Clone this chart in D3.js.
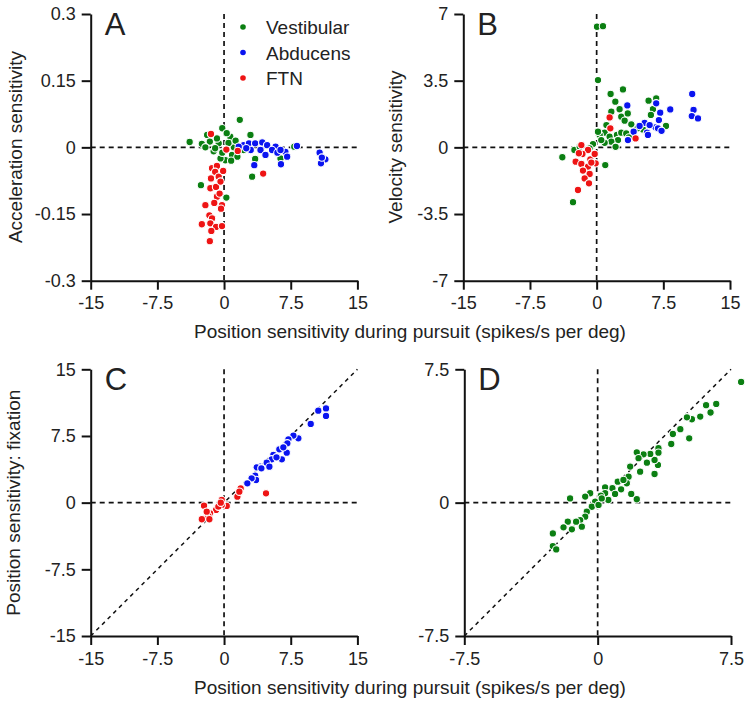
<!DOCTYPE html>
<html>
<head>
<meta charset="utf-8">
<style>
  body { margin: 0; background: #fff; }
  svg text { font-family: "Liberation Sans", Arial, Helvetica, sans-serif; fill: #222; }
</style>
<script src="https://cdn.jsdelivr.net/npm/d3@7"></script>
</head>
<body>
<svg id="chart" width="750" height="703"></svg>
<script>
// groups
const groups = ["Vestibular", "Abducens", "FTN"]
const groupColors = ["#0b7f12", "#0a14f0", "#ee1414"]

// tick values
const ticksPursuit = [-15, -7.5, 0, 7.5, 15]
const ticksAcc = [-0.3, -0.15, 0, 0.15, 0.3]
const ticksVel = [-7, -3.5, 0, 3.5, 7]
const ticksFixC = [-15, -7.5, 0, 7.5, 15]
const ticksD = [-7.5, 0, 7.5]

// A: position sensitivity vs acceleration sensitivity
const accVestibular = [[-3.87,0.012],[1.77,0.062],[-0.2,0.043],[-1.9,0.028],[-1.6,0.013],[-2.5,0.008],[-0.6,0.009],
  [-1.17,-0.009],[2.97,0.028],[3.5,-0.026],[3.16,-0.066],[-2.6,-0.085],[0.26,-0.113],[0.15,-0.029],[0.9,-0.017],
  [1.5,-0.021],[6.35,-0.025],[7.9,0.0015],[-2.1,0.0],[-0.8,0.02],[0.7,0.024],[0.3,0.032],[-0.4,-0.025],
  [-1.0,-0.002],[1.1,0.0],[2.2,-0.006],[0.5,0.01],[-0.2,-0.012],[1.3,0.015],[0.8,-0.03]]
const accAbducens = [[2.2,0.005],[2.8,0.009],[3.5,0.009],[4.3,0.011],[4.85,0.005],[4.1,-0.006],[4.66,-0.017],
  [5.8,0.0015],[5.4,-0.006],[6.0,-0.012],[3.4,-0.04],[6.4,-0.038],[6.9,-0.01],[7.1,-0.021],[8.2,0.003],
  [10.75,-0.012],[11.4,-0.027],[10.9,-0.036],[11.0,-0.023],[3.0,-0.006],[2.5,-0.002],[1.65,0.0015],[6.35,-0.006]]
const accFTN = [[-1.47,0.03],[0.26,-0.005],[1.54,-0.008],[4.4,-0.059],[-1.35,-0.047],[-0.8,-0.042],[-1.0,-0.055],
  [-1.47,-0.07],[-0.6,-0.066],[-1.54,-0.092],[-0.9,-0.089],[-0.4,-0.077],[-0.1,-0.053],[-0.8,-0.111],
  [-0.23,-0.13],[-1.1,-0.125],[-2.1,-0.13],[-1.65,-0.153],[-1.35,-0.16],[-2.5,-0.173],[-1.54,-0.171],
  [-0.9,-0.179],[-1.43,-0.188],[-0.23,-0.177],[-1.6,-0.211],[-0.5,-0.104],[-0.34,-0.138]]

// B: position sensitivity vs velocity sensitivity
const velVestibular = [[0.04,6.33],[0.71,6.36],[0.15,3.53],[1.57,2.8],[2.96,3.04],[2.1,2.4],[2.58,2.0],[1.65,1.87],
  [2.77,1.61],[3.5,1.78],[3.15,1.4],[3.9,1.21],[5.84,2.45],[6.7,2.57],[6.33,2.0],[6.1,1.7],[7.8,1.12],[5.2,0.94],
  [4.6,1.0],[1.1,1.17],[0.9,0.77],[0.34,0.65],[1.46,0.56],[2.28,0.65],[2.77,0.77],[3.33,0.73],[3.63,0.52],
  [2.4,0.38],[1.65,0.3],[0.9,0.24],[2.13,0.03],[-0.41,0.17],[-3.86,-0.52],[-2.66,-2.88],[0.97,-0.93],
  [-0.8,-0.05],[-2.5,-0.14],[-1.9,0.03],[0.52,0.38],[0.15,0.82]]
const velAbducens = [[3.45,2.2],[6.7,2.31],[7.15,1.82],[8.28,1.99],[7.0,1.43],[6.63,1.05],[6.9,1.0],[7.3,0.87],
  [5.66,0.77],[5.4,1.29],[4.83,1.12],[4.16,0.82],[3.52,0.38],[10.75,2.8],[10.9,1.96],[10.7,1.64],[11.4,1.52],
  [5.96,1.17],[5.77,0.65]]
const velFTN = [[1.46,1.57],[1.54,1.0],[4.38,0.47],[-1.72,0.12],[-0.97,-0.14],[-1.6,-0.35],[-2.36,-0.75],
  [-1.72,-0.87],[-0.71,-0.63],[-0.22,-0.35],[-0.11,-0.84],[-0.97,-1.01],[-1.54,-1.22],[-0.79,-1.4],
  [-1.35,-1.63],[-0.86,-1.89],[-2.1,-2.24],[-0.6,-0.8],[-2.0,-0.31]]

// C: pursuit vs fixation, abducens + FTN
const fixAbducens = [[11.47,10.6],[11.47,9.75],[10.6,10.35],[9.75,8.85],[8.36,7.24],[7.8,7.54],[7.24,7.12],
  [7.12,6.67],[7.05,5.62],[6.5,4.87],[6.22,6.0],[5.55,5.36],[5.36,4.87],[4.8,4.5],[4.05,4.05],[3.67,3.97],
  [3.5,3.04],[3.6,2.55],[3.1,2.74],[2.62,2.17],[5.1,4.05],[4.2,3.86],[6.67,6.22],[5.9,5.1]]
const fixFTN = [[4.72,1.05],[1.87,1.61],[1.5,0.67],[1.72,1.24],[0.3,-0.37],[-0.26,-0.26],[-0.26,0.3],
  [-0.9,-0.82],[-1.57,-1.2],[-1.76,-1.5],[-1.65,-1.87],[-2.25,-0.34],[-2.5,-1.87],[-1.95,-1.01],
  [-0.64,-0.45],[-0.37,0]]

// D: pursuit vs fixation, vestibular
const fixVestibular = [[8.07,6.79],[6.67,5.55],[6.1,5.48],[6.35,5.07],[5.77,4.84],[5.3,4.69],[5.02,4.8],
  [4.65,4.13],[4.23,3.86],[4.14,3.3],[5.15,3.62],[3.42,3.06],[3.42,2.81],[3.39,2.12],[3.2,1.61],[3.2,2.4],
  [2.96,2.74],[2.77,2.25],[2.58,2.72],[2.2,2.83],[2.3,2.5],[2.39,1.74],[2.2,0.19],[1.89,0.49],[1.83,2.03],
  [1.74,1.46],[1.64,1.09],[1.32,0.75],[1.13,1.18],[1.45,1.28],[0.83,0.81],[0.42,0.86],[0.42,0.53],[0.6,0.15],
  [0.18,0.39],[-0.14,0.06],[-0.42,0.53],[-0.7,0.34],[-1.55,0.24],[-0.33,-0.23],[-0.61,-0.51],[-0.7,-0.79],
  [-0.98,-0.98],[-0.89,-1.35],[-1.21,-1.07],[-1.45,-1.5],[-1.68,-1.07],[-1.92,-1.39],[-2.52,-1.73],
  [-2.52,-2.44],[-2.33,-2.63],[0.05,-0.13],[0.23,0.24],[0.98,0.49]]

let svg = d3.select("#chart")
const size = 266.7

function drawPanel(p){
    let g = svg.append("g").attr("transform", `translate(${p.left},${p.top})`)
    let x = d3.scaleLinear().domain(p.xDomain).range([0, size])
    let y = d3.scaleLinear().domain(p.yDomain).range([size, 0])

    // dashed zero lines
    g.append("line")
        .attr("x1", x(0)).attr("x2", x(0)).attr("y1", 0).attr("y2", size)
        .attr("stroke", "#111").attr("stroke-width", 1.7).attr("stroke-dasharray", "5,4")
    g.append("line")
        .attr("x1", 0).attr("x2", size).attr("y1", y(0)).attr("y2", y(0))
        .attr("stroke", "#111").attr("stroke-width", 1.7).attr("stroke-dasharray", "5,4")
    if(p.diagonal){
        g.append("line")
            .attr("x1", x(p.xDomain[0])).attr("y1", y(p.xDomain[0]))
            .attr("x2", x(p.xDomain[1])).attr("y2", y(p.xDomain[1]))
            .attr("stroke", "#111").attr("stroke-width", 1.5).attr("stroke-dasharray", "4,4")
    }

    // points, drawn in series order
    for(let s of p.series){
        g.append("g").selectAll("circle")
            .data(s.data)
            .enter().append("circle")
            .attr("cx", d => x(d[0]))
            .attr("cy", d => y(d[1]))
            .attr("r", 3.7)
            .attr("fill", groupColors[s.group])
            .attr("stroke", "#fff")
            .attr("stroke-width", 1.1)
    }

    let xAxis = d3.axisBottom(x).tickValues(p.xTicks).tickFormat(d => String(d))
        .tickSize(9).tickSizeOuter(0).tickPadding(7)
    let yAxis = d3.axisLeft(y).tickValues(p.yTicks).tickFormat(d => String(d))
        .tickSize(9).tickSizeOuter(0).tickPadding(6)

    let gx = g.append("g").attr("transform", `translate(0,${size})`).call(xAxis)
    let gy = g.append("g").call(yAxis)
    for(let a of [gx, gy]){
        a.select(".domain").attr("stroke", "#111").attr("stroke-width", 2)
        a.selectAll(".tick line").attr("stroke", "#111").attr("stroke-width", 2)
        a.selectAll(".tick text").attr("font-size", 18).attr("fill", "#222")
            .attr("font-family", "Liberation Sans, Arial, sans-serif")
    }

    g.append("text")
        .attr("x", 14).attr("y", 21)
        .attr("font-size", 31)
        .text(p.letter)
}

drawPanel({left: 90.7, top: 14, letter: "A",
    xDomain: [-15, 15], yDomain: [-0.3, 0.3], xTicks: ticksPursuit, yTicks: ticksAcc,
    series: [{group: 0, data: accVestibular}, {group: 1, data: accAbducens}, {group: 2, data: accFTN}]})

drawPanel({left: 463.3, top: 14, letter: "B",
    xDomain: [-15, 15], yDomain: [-7, 7], xTicks: ticksPursuit, yTicks: ticksVel,
    series: [{group: 0, data: velVestibular}, {group: 1, data: velAbducens}, {group: 2, data: velFTN}]})

drawPanel({left: 90.7, top: 369.3, letter: "C", diagonal: true,
    xDomain: [-15, 15], yDomain: [-15, 15], xTicks: ticksPursuit, yTicks: ticksFixC,
    series: [{group: 1, data: fixAbducens}, {group: 2, data: fixFTN}]})

drawPanel({left: 464.3, top: 369.3, letter: "D", diagonal: true,
    xDomain: [-7.5, 7.5], yDomain: [-7.5, 7.5], xTicks: ticksD, yTicks: ticksD,
    series: [{group: 0, data: fixVestibular}]})

// legend in panel A
let legend = svg.append("g")
groups.forEach((name, i) => {
    legend.append("circle")
        .attr("cx", 243).attr("cy", 27 + i * 25.5).attr("r", 2.8)
        .attr("fill", groupColors[i])
    legend.append("text")
        .attr("x", 266).attr("y", 34 + i * 25.5)
        .attr("font-size", 19)
        .text(name)
})

// axis titles
const xTitle = "Position sensitivity during pursuit (spikes/s per deg)"
svg.append("text").attr("x", 410).attr("y", 338).attr("text-anchor", "middle")
    .attr("font-size", 19).text(xTitle)
svg.append("text").attr("x", 410).attr("y", 693.5).attr("text-anchor", "middle")
    .attr("font-size", 19).text(xTitle)

svg.append("text").attr("transform", "translate(21.5,147) rotate(-90)")
    .attr("text-anchor", "middle").attr("font-size", 19).text("Acceleration sensitivity")
svg.append("text").attr("transform", "translate(402,147) rotate(-90)")
    .attr("text-anchor", "middle").attr("font-size", 19).text("Velocity sensitivity")
svg.append("text").attr("transform", "translate(19.5,502.7) rotate(-90)")
    .attr("text-anchor", "middle").attr("font-size", 19).text("Position sensitivity: fixation")
</script>
</body>
</html>
